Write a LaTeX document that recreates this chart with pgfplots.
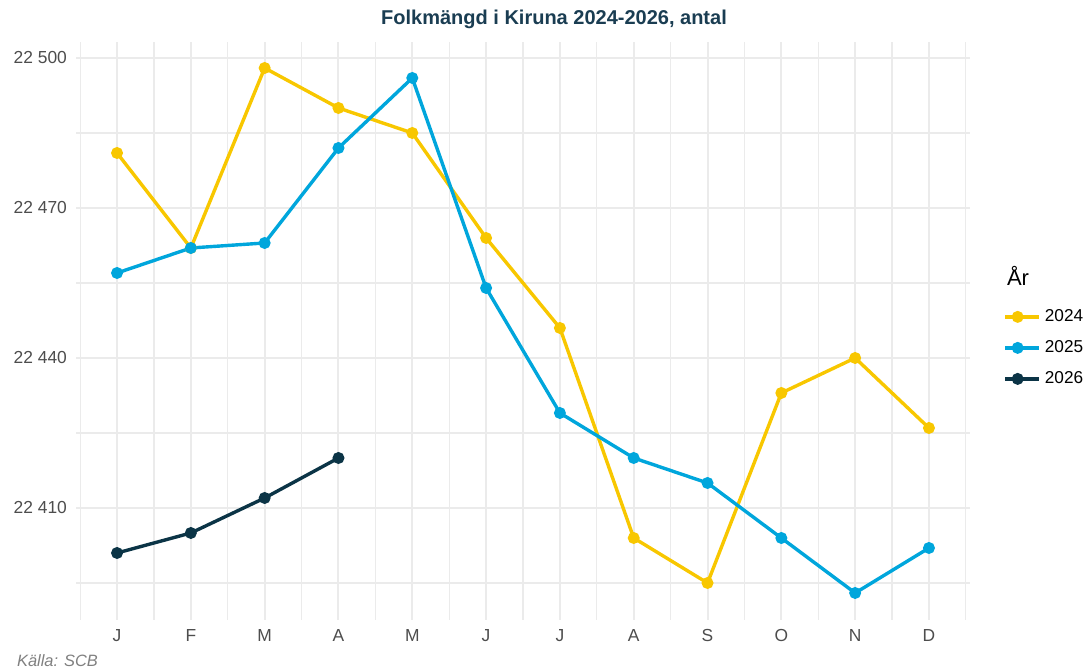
\documentclass[border=0pt]{standalone}
\usepackage{pgfplots}
\pgfplotsset{compat=1.18}
\usepackage{fontspec}
\setmainfont{Liberation Sans}
\definecolor{c24}{HTML}{F8C700}
\definecolor{c25}{HTML}{00A6DC}
\definecolor{c26}{HTML}{0B3446}
\definecolor{ctitle}{HTML}{1A3D52}
\definecolor{gridc}{HTML}{EBEBEB}
\definecolor{tickc}{HTML}{4D4D4D}
\begin{document}
\begin{tikzpicture}
\path[use as bounding box] (0,0) rectangle (544pt,336pt);
\begin{axis}[
  at={(38pt,26pt)}, anchor=south west,
  scale only axis, width=447pt, height=289pt,
  xmin=0.444, xmax=12.556, ymin=22387.6, ymax=22503.2,
  scaled y ticks=false,
  axis line style={draw=none},
  tick style={draw=none},
  xtick={1,...,12},
  xticklabels={J,F,M,A,M,J,J,A,S,O,N,D},
  minor xtick={0.5,1.5,...,12.5},
  ytick={22410,22440,22470,22500},
  yticklabels={22 410,22 440,22 470,22 500},
  minor ytick={22395,22425,22455,22485},
  grid=both,
  major grid style={gridc, line width=1pt},
  minor grid style={gridc, line width=0.6pt},
  ticklabel style={font=\fontsize{8.7}{10}\selectfont, text=tickc},
  yticklabel style={xshift=-1pt},
  xticklabel style={yshift=-1pt},
  legend style={draw=none, fill=none, at={(rel axis cs:1.037,0.545)}, anchor=north west,
    font=\fontsize{8.6}{10}\selectfont, row sep=4.0pt, inner sep=0pt},
  legend cell align=left,
  legend image code/.code={\path (0pt,0pt) -- (17pt,0pt); \draw[mark repeat=2,mark phase=2] plot coordinates {(0pt,0pt)(6.25pt,0pt)(12.5pt,0pt)};},
  every axis plot/.append style={line width=1.7pt, mark=*, mark size=2.1pt},
]
\addplot[c24, mark options={fill=c24, draw=c24}] coordinates {
(1,22481)(2,22462)(3,22498)(4,22490)(5,22485)(6,22464)(7,22446)(8,22404)(9,22395)(10,22433)(11,22440)(12,22426)};
\addlegendentry{2024}
\addplot[c25, mark options={fill=c25, draw=c25}] coordinates {
(1,22457)(2,22462)(3,22463)(4,22482)(5,22496)(6,22454)(7,22429)(8,22420)(9,22415)(10,22404)(11,22393)(12,22402)};
\addlegendentry{2025}
\addplot[c26, mark options={fill=c26, draw=c26}] coordinates {
(1,22401)(2,22405)(3,22412)(4,22420)};
\addlegendentry{2026}
\end{axis}
\node[anchor=center, font=\bfseries\fontsize{10}{12}\selectfont, text=ctitle] at (277pt,326.5pt) {Folkmängd i Kiruna 2024-2026, antal};
\node[anchor=west, font=\fontsize{11}{12}\selectfont, text=black] at (500pt,198pt) {År};
\node[anchor=west, font=\itshape\fontsize{8.2}{10}\selectfont, text=gray] at (5pt,5.5pt) {Källa: SCB};
\end{tikzpicture}
\end{document}
